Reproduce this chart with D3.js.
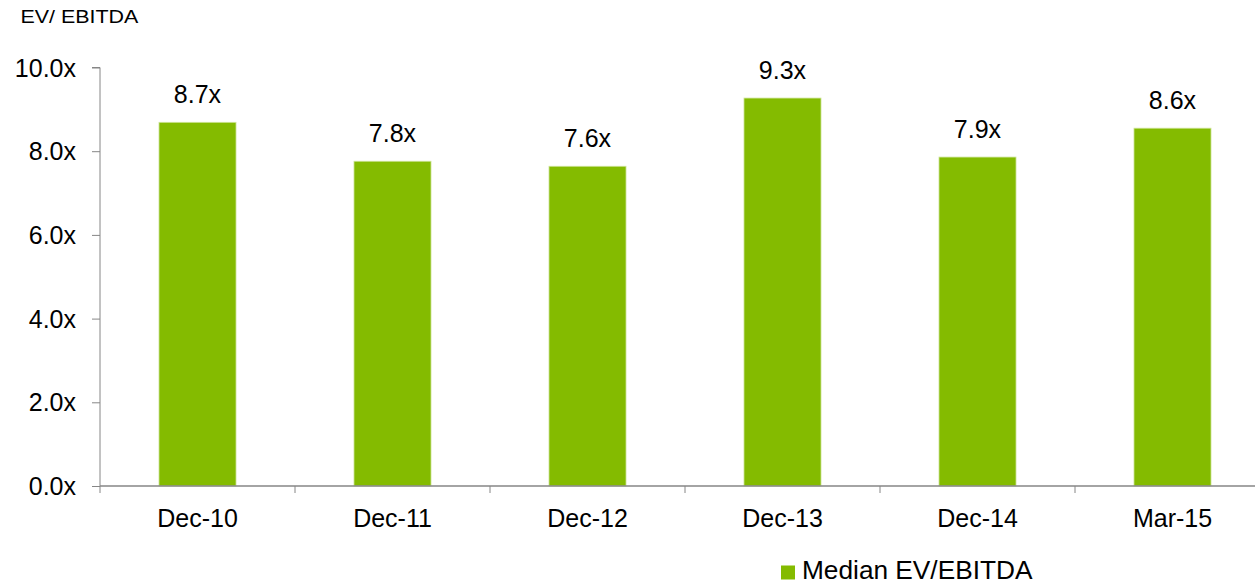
<!DOCTYPE html>
<html>
<head>
<meta charset="utf-8">
<script src="https://cdn.jsdelivr.net/npm/d3@7"></script>
<style>
  html, body { margin: 0; padding: 0; background: #fff; }
  svg { display: block; font-family: Arial, "Liberation Sans", sans-serif; }
</style>
</head>
<body>
<svg id="chart" width="1255" height="583"></svg>
<script>
const categories = ["Dec-10", "Dec-11", "Dec-12", "Dec-13", "Dec-14", "Mar-15"];
const values = [8.69, 7.76, 7.64, 9.27, 7.86, 8.55];
const valueLabels = ["8.7x", "7.8x", "7.6x", "9.3x", "7.9x", "8.6x"];
const yTicks = [0, 2, 4, 6, 8, 10];
const seriesName = "Median EV/EBITDA";
const axisTitle = "EV/ EBITDA";

const svg = d3.select("#chart");
const W = 1255;
const mLeft = 100, mTop = 67.5, mBottom = 486;
const band = 195;
const color = "#84bb00";
const axisColor = "#868686";
const fs = 25;

const x = d3.scaleBand().domain(categories).range([mLeft, mLeft + band * categories.length])
  .paddingInner(0.605).paddingOuter(0.3025);
const y = d3.scaleLinear().domain([0, 10]).range([mBottom, mTop]);

// title
svg.append("text").attr("transform", "translate(20.5,22.5) scale(1.19,1)")
  .attr("font-size", 18).attr("fill", "#000").text(axisTitle);

// bars
svg.append("g").selectAll("rect").data(values).join("rect")
  .attr("x", (d, i) => x(categories[i]))
  .attr("width", x.bandwidth())
  .attr("y", d => y(d))
  .attr("height", d => y(0) - y(d))
  .attr("fill", color)
  .attr("stroke", "#cfe59a")
  .attr("stroke-width", 0.8);

// value labels
svg.append("g").selectAll("text").data(values).join("text")
  .attr("x", (d, i) => x(categories[i]) + x.bandwidth() / 2)
  .attr("y", d => y(d) - 19)
  .attr("text-anchor", "middle")
  .attr("font-size", fs)
  .attr("fill", "#000")
  .text((d, i) => valueLabels[i]);

// y axis
const yAxis = d3.axisLeft(y).tickValues(yTicks).tickSize(8).tickPadding(16)
  .tickFormat(d => d3.format(".1f")(d) + "x");
const gy = svg.append("g").attr("transform", `translate(${mLeft},0)`).call(yAxis);
gy.attr("font-family", null).attr("font-size", null);
gy.select(".domain").attr("stroke", axisColor).attr("d", `M-8,${mTop}H0V${mBottom + 7}`);
gy.selectAll(".tick line").attr("stroke", axisColor);
gy.selectAll(".tick text").attr("font-size", fs).attr("fill", "#000").attr("dy", "0.34em");

// x axis
const gx = svg.append("g");
gx.append("line").attr("x1", mLeft).attr("x2", W).attr("y1", mBottom).attr("y2", mBottom)
  .attr("stroke", axisColor).attr("stroke-width", 1.5);
const boundaries = categories.slice(1).map(c => x(c) - x.step() * x.paddingInner() / 2);
gx.selectAll("line.tk").data(boundaries).join("line").attr("class", "tk")
  .attr("x1", d => d).attr("x2", d => d).attr("y1", mBottom).attr("y2", mBottom + 7)
  .attr("stroke", axisColor);
gx.selectAll("text").data(categories).join("text")
  .attr("x", d => x(d) + x.bandwidth() / 2)
  .attr("y", mBottom + 40.5)
  .attr("text-anchor", "middle")
  .attr("font-size", fs)
  .attr("fill", "#000")
  .text(d => d);

// legend
const lg = svg.append("g");
lg.append("rect").attr("x", 781).attr("y", 565.5).attr("width", 14).attr("height", 14).attr("fill", color);
lg.append("text").attr("transform", "translate(802,578.5) scale(1.05,1)")
  .attr("font-size", fs).attr("fill", "#000").text(seriesName);
</script>
</body>
</html>
